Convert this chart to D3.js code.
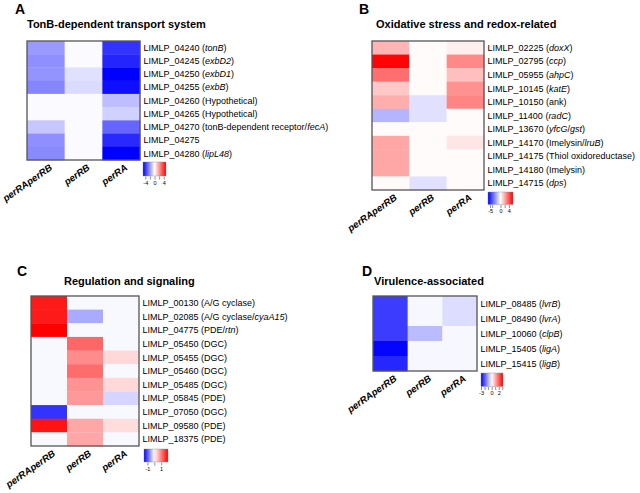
<!DOCTYPE html>
<html><head><meta charset="utf-8">
<script src="https://cdn.jsdelivr.net/npm/d3@7"></script>
<style>
body{margin:0;background:#fff}
svg{display:block}
text{font-family:"Liberation Sans",Arial,Helvetica,sans-serif;fill:#000}
</style>
</head><body>
<svg id="chart" width="640" height="493"></svg>
<script>
// ---------- DATA ----------
const samples = ["perRAperRB", "perRB", "perRA"];

// Panel A
const titleA = "TonB-dependent transport system";
const genesA = ["LIMLP_04240 (*tonB*)", "LIMLP_04245 (*exbD2*)", "LIMLP_04250 (*exbD1*)", "LIMLP_04255 (*exbB*)",
  "LIMLP_04260 (Hypothetical)", "LIMLP_04265 (Hypothetical)", "LIMLP_04270 (tonB-dependent receptor/*fecA*)",
  "LIMLP_04275", "LIMLP_04280 (*lipL48*)"];
const valuesA = [
  [-2.0, -0.1, -4.0],
  [-2.2, -0.1, -4.3],
  [-2.1, -0.6, -5.0],
  [-2.4, -0.7, -4.7],
  [-0.1, -0.1, -1.3],
  [-0.1, -0.1, -0.9],
  [-1.1, -0.1, -3.0],
  [-2.2, -0.1, -4.2],
  [-2.3, -0.1, -5.0]
];
const domainA = [-5, 0, 5];
const ticksA = [-4, -2, 0, 2, 4];
const tickLabelsA = ["-4", "", "0", "", "4"];

// Panel B
const titleB = "Oxidative stress and redox-related";
const genesB = ["LIMLP_02225 (*doxX*)", "LIMLP_02795 (*ccp*)", "LIMLP_05955 (*ahpC*)", "LIMLP_10145 (*katE*)",
  "LIMLP_10150 (ank)", "LIMLP_11400 (*radC*)", "LIMLP_13670 (*yfcG*/*gst*)", "LIMLP_14170 (Imelysin/*lruB*)",
  "LIMLP_14175 (Thiol oxidoreductase)", "LIMLP_14180 (Imelysin)", "LIMLP_14715 (*dps*)"];
const valuesB = [
  [1.75, 0.1, 0.35],
  [5.9, 0.1, 2.8],
  [3.4, 0.1, 1.5],
  [1.3, 0.1, 2.6],
  [1.9, -0.7, 2.9],
  [-1.75, -0.7, 0.1],
  [0.1, 0.1, 0.1],
  [2.1, 0.1, 0.6],
  [2.1, 0.1, 0.1],
  [2.1, 0.1, 0.1],
  [0.1, -0.7, 0.1]
];
const domainB = [-6, 0, 6];
const ticksB = [-5, -4, 0, 2, 4];
const tickLabelsB = ["-5", "", "0", "", "4"];

// Panel C
const titleC = "Regulation and signaling";
const genesC = ["LIMLP_00130 (A/G cyclase)", "LIMLP_02085 (A/G cyclase/*cyaA15*)", "LIMLP_04775 (PDE/*rtn*)",
  "LIMLP_05450 (DGC)", "LIMLP_05455 (DGC)", "LIMLP_05460 (DGC)", "LIMLP_05485 (DGC)", "LIMLP_05845 (PDE)",
  "LIMLP_07050 (DGC)", "LIMLP_09580 (PDE)", "LIMLP_18375 (PDE)"];
const valuesC = [
  [1.8, -0.04, -0.04],
  [1.8, -0.5, -0.04],
  [2.0, -0.04, -0.04],
  [-0.04, 1.2, -0.04],
  [-0.04, 0.9, 0.3],
  [-0.04, 1.15, -0.04],
  [-0.04, 0.85, 0.3],
  [-0.04, 0.8, -0.25],
  [-1.2, -0.04, -0.04],
  [1.85, 0.7, 0.27],
  [-0.04, 0.7, -0.04]
];
const domainC = [-1.5, 0, 2];
const ticksC = [-1, 0, 1];
const tickLabelsC = ["-1", "", "1"];

// Panel D
const titleD = "Virulence-associated";
const genesD = ["LIMLP_08485 (*lvrB*)", "LIMLP_08490 (*lvrA*)", "LIMLP_10060 (*clpB*)", "LIMLP_15405 (*ligA*)", "LIMLP_15415 (*ligB*)"];
const valuesD = [
  [-2.3, -0.1, -0.4],
  [-2.3, -0.1, -0.4],
  [-2.3, -0.8, -0.1],
  [-2.95, -0.1, -0.1],
  [-2.55, -0.1, -0.1]
];
const domainD = [-3, 0, 3.2];
const ticksD = [-3, -2, -1, 0, 1, 2, 3];
const tickLabelsD = ["-3", "", "", "0", "", "2", ""];

// ---------- LAYOUT ----------
const svg = d3.select("#chart");
const defs = svg.append("defs");

function richText(sel, str) {
  str.split("*").forEach((part, i) => {
    if (!part) return;
    sel.append("tspan").text(part).style("font-style", i % 2 ? "italic" : "normal");
  });
}

function drawPanel(id, cfg, title, genes, values, domain, ticks, tickLabels) {
  const g = svg.append("g");
  const color = d3.scaleLinear().domain(domain).range(["#0000ff", "#ffffff", "#ff0000"]).clamp(true);
  const x = d3.scaleBand().domain(samples).range([cfg.x0, cfg.x1]);
  const y = d3.scaleBand().domain(genes).range([cfg.y0, cfg.y1]);

  g.append("text").attr("x", cfg.lx).attr("y", cfg.ly).text(cfg.letter)
    .style("font-size", "14px").style("font-weight", "bold");
  g.append("text").attr("x", cfg.tx).attr("y", cfg.ty).text(title)
    .style("font-size", "11px").style("font-weight", "bold");

  genes.forEach((gene, r) => {
    samples.forEach((s, c) => {
      g.append("rect").attr("x", x(s)).attr("y", y(gene))
        .attr("width", x.bandwidth() + 0.3).attr("height", y.bandwidth() + 0.3)
        .attr("fill", color(values[r][c]));
    });
    const t = g.append("text").attr("x", cfg.x1 + 3.5).attr("y", y(gene) + y.bandwidth() / 2)
      .attr("dy", "0.35em").style("font-size", "9px");
    richText(t, gene);
  });
  g.append("rect").attr("x", cfg.x0).attr("y", cfg.y0).attr("width", cfg.x1 - cfg.x0).attr("height", cfg.y1 - cfg.y0)
    .attr("fill", "none").attr("stroke", "#555").attr("stroke-width", 1.3);

  samples.forEach(s => {
    const cx = x(s) + x.bandwidth() / 2 + 7;
    const cy = cfg.y1 + 9;
    g.append("text").attr("transform", `translate(${cx},${cy}) rotate(-35)`)
      .attr("text-anchor", "end").text(s)
      .style("font-size", "9.6px").style("font-weight", "bold").style("font-style", "italic");
  });

  // legend
  const L = cfg.leg;
  const gid = "grad" + id;
  const grad = defs.append("linearGradient").attr("id", gid);
  const lx = d3.scaleLinear().domain([domain[0], domain[2]]).range([L.x, L.x + L.w]);
  d3.range(0, 11).forEach(i => {
    const v = domain[0] + (domain[2] - domain[0]) * i / 10;
    grad.append("stop").attr("offset", (i * 10) + "%").attr("stop-color", color(v));
  });
  g.append("rect").attr("x", L.x).attr("y", L.y).attr("width", L.w).attr("height", L.h)
    .attr("fill", `url(#${gid})`).attr("stroke", "#888").attr("stroke-width", 0.4);
  const axis = d3.axisBottom(lx).tickValues(ticks).tickSize(3).tickPadding(1.5)
    .tickFormat((d, i) => tickLabels[i]);
  const ag = g.append("g").attr("transform", `translate(0,${L.y + L.h + 0.5})`).call(axis);
  ag.select(".domain").remove();
  ag.selectAll("line").attr("stroke", "#444").attr("stroke-width", 0.6);
  ag.selectAll("text").style("font-size", "5.5px").attr("fill", "#333");
}

drawPanel("A", {x0: 27, x1: 140, y0: 41, y1: 160, lx: 15, ly: 14, tx: 27, ty: 27.5, letter: "A",
  leg: {x: 143, y: 162, w: 23, h: 14}}, titleA, genesA, valuesA, domainA, ticksA, tickLabelsA);
drawPanel("B", {x0: 372, x1: 484, y0: 41, y1: 190, lx: 359, ly: 14, tx: 376, ty: 27.5, letter: "B",
  leg: {x: 488, y: 192, w: 25, h: 12.5}}, titleB, genesB, valuesB, domainB, ticksB, tickLabelsB);
drawPanel("C", {x0: 31, x1: 139, y0: 296, y1: 446, lx: 17, ly: 276, tx: 64, ty: 284.5, letter: "C",
  leg: {x: 144, y: 449, w: 24, h: 13}}, titleC, genesC, valuesC, domainC, ticksC, tickLabelsC);
drawPanel("D", {x0: 373, x1: 477, y0: 296, y1: 371, lx: 362, ly: 276, tx: 374, ty: 284.5, letter: "D",
  leg: {x: 481, y: 373, w: 22, h: 13.5}}, titleD, genesD, valuesD, domainD, ticksD, tickLabelsD);
</script>
</body></html>
